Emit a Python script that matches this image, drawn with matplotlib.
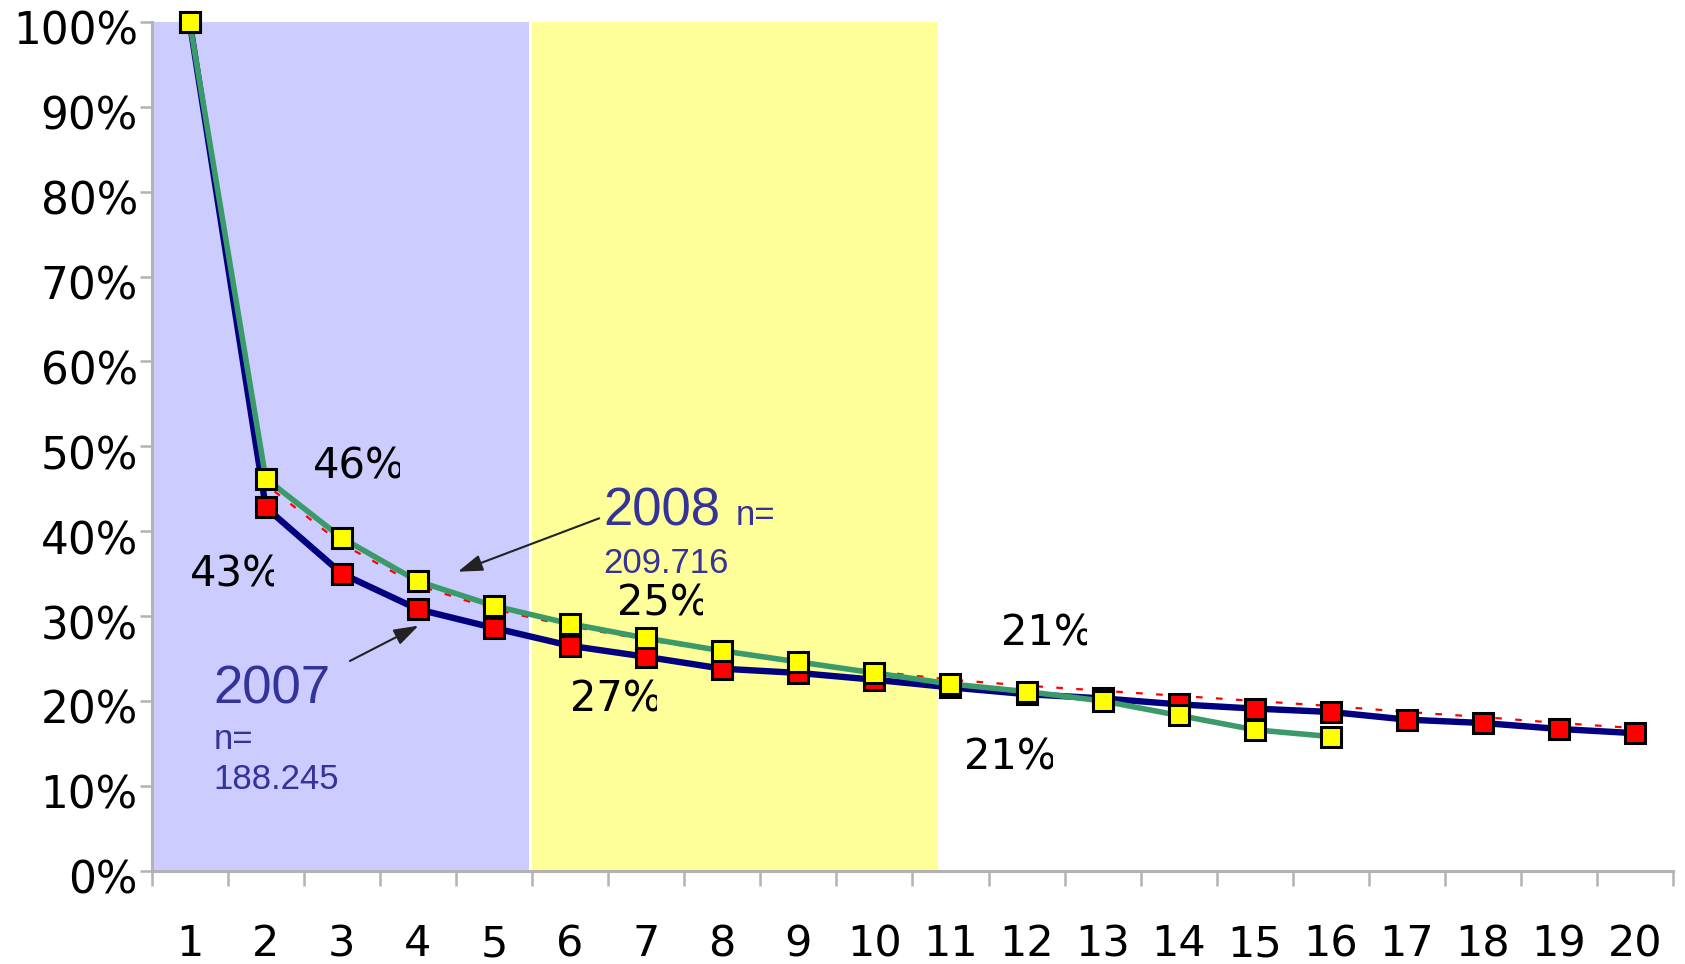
import matplotlib
matplotlib.use("Agg")
import matplotlib.pyplot as plt
from matplotlib.transforms import Bbox, TransformedBbox, ScaledTranslation

# retention per position
positions = list(range(1, 21))
share_2007 = [100, 42.8, 35.0, 30.8, 28.6, 26.5, 25.2, 23.8, 23.3, 22.5,
              21.6, 20.8, 20.3, 19.6, 19.1, 18.7, 17.8, 17.4, 16.7, 16.2]
share_2008 = [100, 46.2, 39.2, 34.1, 31.2, 29.1, 27.4, 25.9, 24.6, 23.3,
              22.0, 21.1, 20.0, 18.3, 16.6, 15.8]
share_trend = [100, 45.5, 38.5, 33.6, 30.8, 28.8, 27.2, 25.8, 24.6, 23.5,
               22.5, 21.8, 21.2, 20.6, 20.0, 19.4, 18.7, 18.1, 17.4, 16.8]

y_ticks = list(range(0, 101, 10))
y_tick_labels = [f"{v}%" for v in y_ticks]

pct_texts = ["46%", "43%", "25%", "27%", "21%", "21%"]

BLUE_TXT = "#333399"

fig = plt.figure(figsize=(16.85, 9.64), dpi=100)
ax = fig.add_axes([0.0900, 0.0968, 0.9030, 0.8804])
ax.set_xlim(0.5, 20.5)
ax.set_ylim(0, 100)

# shaded bands
ax.axvspan(0.5, 5.46, color="#ccccff", zorder=0, lw=0)
ax.axvspan(5.5, 10.83, color="#ffff99", zorder=0, lw=0)

ax.plot(positions, share_trend, color="red", lw=1.6, ls=(0, (3, 6)),
        zorder=2.5, clip_on=False)
ax.plot(positions, share_2007, color="#000080", lw=4.6, marker="s",
        markersize=15, markerfacecolor="red", markeredgecolor="black",
        markeredgewidth=2.2, zorder=3, clip_on=False)
ax.plot(positions[:len(share_2008)], share_2008, color="#3a9a6a", lw=4,
        marker="s", markersize=15, markerfacecolor="#ffff00",
        markeredgecolor="black", markeredgewidth=2.2, zorder=4, clip_on=False)

# axes styling
for side in ("top", "right"):
    ax.spines[side].set_visible(False)
for side in ("left", "bottom"):
    ax.spines[side].set_color("#b3b3b3")
    ax.spines[side].set_linewidth(2.2)

ax.set_yticks(y_ticks)
ax.set_yticklabels(y_tick_labels, fontsize=31.5, family="DejaVu Sans")
ax.tick_params(axis="y", length=9, width=1.8, color="#b3b3b3", pad=1)
offset = ScaledTranslation(0, -6 / 100, fig.dpi_scale_trans)
for lab in ax.get_yticklabels():
    lab.set_transform(lab.get_transform() + offset)

ax.set_xticks(positions)
ax.set_xticklabels([str(p) for p in positions], fontsize=31, family="DejaVu Sans")
ax.set_xticks([p + 0.5 for p in [0] + positions], minor=True)
ax.tick_params(axis="x", which="major", length=0, pad=38)
ax.tick_params(axis="x", which="minor", length=11, width=1.8, color="#b3b3b3")

# percentage labels, clipped on the right like the original
pct_pos = [(2.616, 46.24, 3.766), (1.006, 33.46, 2.114), (6.613, 30.05, 7.742),
           (5.997, 18.74, 7.142), (11.663, 26.48, 12.79), (11.18, 11.94, 12.35)]
for s, (x, y, xr) in zip(pct_texts, pct_pos):
    t = ax.text(x, y, s, fontsize=30, family="DejaVu Sans", color="black",
                va="baseline", ha="left", clip_on=True, zorder=6)
    t.set_clip_box(TransformedBbox(Bbox([[x - 0.5, -10], [xr, 110]]), ax.transData))

# year labels
ax.text(6.44, 40.73, "2008", fontsize=38, family="Liberation Sans",
        color=BLUE_TXT, va="baseline", zorder=6)
ax.text(8.18, 40.73, "n=", fontsize=25, family="Liberation Sans",
        color=BLUE_TXT, va="baseline", zorder=6)
ax.text(6.44, 35.11, "209.716", fontsize=25, family="Liberation Sans",
        color=BLUE_TXT, va="baseline", zorder=6)
ax.text(1.31, 19.64, "2007", fontsize=38, family="Liberation Sans",
        color=BLUE_TXT, va="baseline", zorder=6)
ax.text(1.31, 14.30, "n=", fontsize=25, family="Liberation Sans",
        color=BLUE_TXT, va="baseline", zorder=6)
ax.text(1.31, 9.59, "188.245", fontsize=25, family="Liberation Sans",
        color=BLUE_TXT, va="baseline", zorder=6)

arrow = dict(arrowstyle="-|>,head_length=0.75,head_width=0.25",
             mutation_scale=20, lw=1.5, color="#222222", shrinkA=0, shrinkB=0)
ax.annotate("", xy=(4.525, 35.23), xytext=(6.383, 41.52), arrowprops=arrow, zorder=6)
ax.annotate("", xy=(4.008, 28.87), xytext=(3.106, 24.71), arrowprops=arrow, zorder=6)

fig.savefig("out.png", dpi=100)
